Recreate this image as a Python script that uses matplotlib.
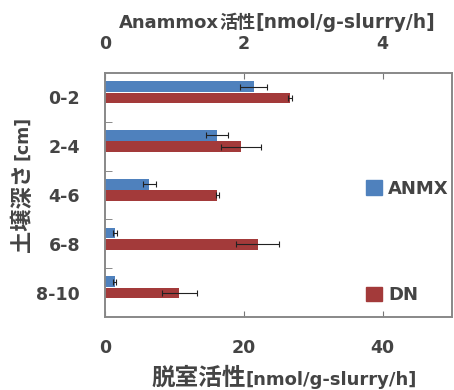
import numpy as np
import matplotlib
matplotlib.use("Agg")
import matplotlib.pyplot as plt
from matplotlib.offsetbox import TextArea, HPacker, AnchoredOffsetbox
from matplotlib.patches import Patch

plt.rcParams['font.family'] = ['DejaVu Sans', 'Noto Sans CJK JP']
plt.rcParams['font.weight'] = 'bold'

# データ
depths = ["0-2", "2-4", "4-6", "6-8", "8-10"]
anmx = [2.14, 1.61, 0.64, 0.14, 0.14]        # Anammox活性 (上軸)
anmx_err = [0.19, 0.16, 0.09, 0.03, 0.02]
dn = [26.7, 19.6, 16.2, 22.0, 10.7]           # 脱室活性 (下軸)
dn_err = [0.3, 2.9, 0.2, 3.1, 2.5]

c_blue = "#4F81BD"
c_red = "#A33A3A"
txt = "#444444"

fig = plt.figure(figsize=(4.54, 3.90), dpi=100)
W, H = 454, 390
ax = fig.add_axes([105 / W, 1 - 317 / H, (452 - 105) / W, (317 - 73) / H])
ax2 = ax.twiny()

y = np.arange(len(depths))
h = 0.22

ax.barh(y + 0.01, dn, height=h, color=c_red, xerr=dn_err,
        error_kw=dict(ecolor="#222222", elinewidth=0.8, capsize=2, capthick=0.8))
ax2.barh(y - 0.22, anmx, height=h, color=c_blue, xerr=anmx_err,
         error_kw=dict(ecolor="#222222", elinewidth=0.8, capsize=2, capthick=0.8))

ax.set_xlim(0, 50)
ax2.set_xlim(0, 5)
ax.set_ylim(len(depths) - 0.5, -0.5)

ax.set_yticks(y)
ax.set_yticklabels(depths, fontsize=12.5, color=txt, fontweight="bold")
ax.set_yticks(y[:-1] + 0.5, minor=True)
ax.tick_params(axis="y", which="major", length=0, pad=18)
ax.tick_params(axis="y", which="minor", direction="in", length=5, color="#777777")

ax.set_xticks([0, 20, 40])
ax.tick_params(axis="x", direction="in", length=4, pad=16, labelsize=12.5,
               labelcolor=txt, color="#777777")
ax2.set_xticks([0, 2, 4])
ax2.tick_params(axis="x", direction="in", length=4, pad=14.5, labelsize=12.5,
                labelcolor=txt, color="#777777")

for a in (ax, ax2):
    for s in a.spines.values():
        s.set_color("#888888")
        s.set_linewidth(1.2)

# ラベル
def label_box(parts, x, yy):
    areas = [TextArea(t, textprops=dict(fontsize=s, color=txt, fontweight="bold"))
             for t, s in parts]
    box = HPacker(children=areas, align="baseline", pad=0, sep=0)
    ab = AnchoredOffsetbox(loc="center", child=box, frameon=False,
                           bbox_to_anchor=(x / W, 1 - yy / H),
                           bbox_transform=fig.transFigure, borderpad=0)
    fig.add_artist(ab)

label_box([("Anammox", 13), ("活性", 13), ("[nmol/g-slurry/h]", 13.5)], 277, 22)
label_box([("脱室活性", 17), ("[nmol/g-slurry/h]", 13)], 284, 378)

fig.text(22 / W, 1 - 208 / H, "土壌深さ", rotation=90, fontsize=16,
         fontweight="bold", color=txt, ha="center", va="center")
fig.text(22 / W, 1 - 138 / H, "[cm]", rotation=90, fontsize=12.5,
         fontweight="bold", color=txt, ha="center", va="center")

handles = [Patch(color=c_blue, label="ANMX"), Patch(color=c_red, label="DN")]
ax.legend(handles=handles, loc="center left", bbox_to_anchor=(350 / W, 1 - 242 / H),
          bbox_transform=fig.transFigure, frameon=False,
          prop=dict(size=13, weight="bold"),
          labelspacing=4.9, handlelength=0.85, handleheight=0.85, handletextpad=0.35,
          labelcolor=txt)

plt.savefig("out.png", dpi=100)
